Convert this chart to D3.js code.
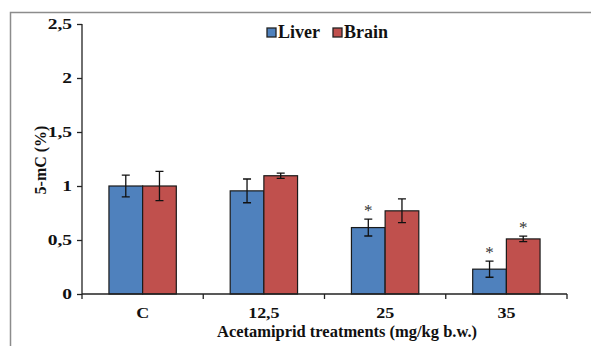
<!DOCTYPE html>
<html lang="en">
<head>
<meta charset="UTF-8">
<title>5-mC levels by acetamiprid treatment</title>
<script src="https://d3js.org/d3.v7.min.js"></script>
<style>
    body { margin: 0; background: #fff; }
    svg { display: block; font-family: "Liberation Serif", "Times New Roman", serif; font-weight: bold; }
</style>
</head>
<body>
<div id="chart"></div>
<script>
// data
const treatments = ["C", "12,5", "25", "35"];
const tissues = ["Liver", "Brain"];
const liverMean = [1.00, 0.955, 0.615, 0.23];
const liverErr  = [0.10, 0.11, 0.078, 0.075];
const brainMean = [1.00, 1.095, 0.77, 0.51];
const brainErr  = [0.135, 0.025, 0.11, 0.025];
const liverSig = [false, false, true, true];
const brainSig = [false, false, false, true];
const yTicks = [0, 0.5, 1, 1.5, 2, 2.5];
const yTickLabels = ["0", "0,5", "1", "1,5", "2", "2,5"];
const colors = {Liver: "#4f81bd", Brain: "#c0504d"};

const W = 591, H = 346;
const svg = d3.select("#chart").append("svg")
    .attr("width", W).attr("height", H);

// gray frame (top + left visible)
svg.append("path")
    .attr("d", `M10.5,346 V12.5 H591`)
    .attr("fill", "none").attr("stroke", "#8c8c8c").attr("stroke-width", 1.5);

const x0 = d3.scaleBand().domain(treatments).range([82, 567]).padding(0);
const x1 = d3.scaleBand().domain(tissues).range([0, x0.bandwidth()]).paddingInner(0).paddingOuter(0.8);
const y = d3.scaleLinear().domain([0, 2.5]).range([294, 24]);

const rows = [];
treatments.forEach((t, i) => {
    rows.push({t, s: "Liver", v: liverMean[i], e: liverErr[i], sig: liverSig[i]});
    rows.push({t, s: "Brain", v: brainMean[i], e: brainErr[i], sig: brainSig[i]});
});

// bars
svg.append("g").selectAll("rect")
    .data(rows).join("rect")
    .attr("x", d => x0(d.t) + x1(d.s))
    .attr("y", d => y(d.v))
    .attr("width", x1.bandwidth())
    .attr("height", d => y(0) - y(d.v))
    .attr("fill", d => colors[d.s])
    .attr("stroke", "#1a1a1a").attr("stroke-width", 1.2);

// error bars
const eb = svg.append("g").attr("stroke", "#111").attr("stroke-width", 1.3).attr("fill", "none");
rows.forEach(d => {
    const cx = x0(d.t) + x1(d.s) + x1.bandwidth() / 2;
    const t = y(d.v + d.e), b = y(d.v - d.e);
    eb.append("path").attr("d", `M${cx},${t} V${b} M${cx - 4},${t} H${cx + 4} M${cx - 4},${b} H${cx + 4}`);
});

// significance stars
svg.append("g").selectAll("text")
    .data(rows.filter(d => d.sig)).join("text")
    .attr("x", d => x0(d.t) + x1(d.s) + x1.bandwidth() / 2)
    .attr("y", d => y(d.v + d.e) - 3)
    .attr("text-anchor", "middle")
    .attr("font-size", 17).attr("font-weight", "normal").attr("fill", "#333")
    .text("*");

// y axis
const yAxis = svg.append("g").attr("transform", "translate(82,0)")
    .call(d3.axisLeft(y).tickValues(yTicks).tickSize(5)
        .tickFormat((d, i) => yTickLabels[i]));
yAxis.select(".domain").attr("d", `M0,${y(2.5)} V${y(0)}`).attr("stroke", "#222").attr("stroke-width", 1.3);
yAxis.selectAll(".tick line").attr("stroke", "#222").attr("stroke-width", 1.3);
yAxis.selectAll(".tick text")
    .attr("x", -10 / 1.3)
    .attr("font-size", 15).attr("font-family", "Liberation Serif").attr("font-weight", "bold")
    .attr("fill", "#111")
    .attr("transform", "scale(1.3,1)");

// x axis
const xg = svg.append("g");
xg.append("line").attr("x1", 82).attr("x2", 567).attr("y1", 294).attr("y2", 294)
    .attr("stroke", "#222").attr("stroke-width", 1.3);
xg.selectAll("line.tk")
    .data(treatments.map(t => x0(t)).concat([x0.range()[1]])).join("line")
    .attr("class", "tk")
    .attr("x1", d => d).attr("x2", d => d).attr("y1", 294).attr("y2", 299)
    .attr("stroke", "#222").attr("stroke-width", 1.3);
xg.selectAll("text")
    .data(treatments).join("text")
    .attr("transform", d => `translate(${x0(d) + x0.bandwidth() / 2},318) scale(1.2,1)`)
    .attr("text-anchor", "middle")
    .attr("font-size", 15).attr("fill", "#111")
    .text(d => d);

// axis titles
svg.append("text")
    .attr("transform", "translate(347,337) scale(1.03,1)")
    .attr("text-anchor", "middle").attr("font-size", 16).attr("fill", "#111")
    .text("Acetamiprid treatments (mg/kg b.w.)");
svg.append("text")
    .attr("transform", "translate(46,160) rotate(-90)")
    .attr("text-anchor", "middle").attr("font-size", 16).attr("fill", "#111")
    .text("5-mC (%)");

// legend
const legX = [267, 333];
const leg = svg.append("g").selectAll("g")
    .data(tissues).join("g")
    .attr("transform", (d, i) => `translate(${legX[i]},28)`);
leg.append("rect")
    .attr("width", 9).attr("height", 9)
    .attr("fill", d => colors[d])
    .attr("stroke", "#222").attr("stroke-width", 1.3);
leg.append("text")
    .attr("x", 11).attr("y", 10)
    .attr("font-size", 18).attr("fill", "#111")
    .text(d => d);
</script>
</body>
</html>
